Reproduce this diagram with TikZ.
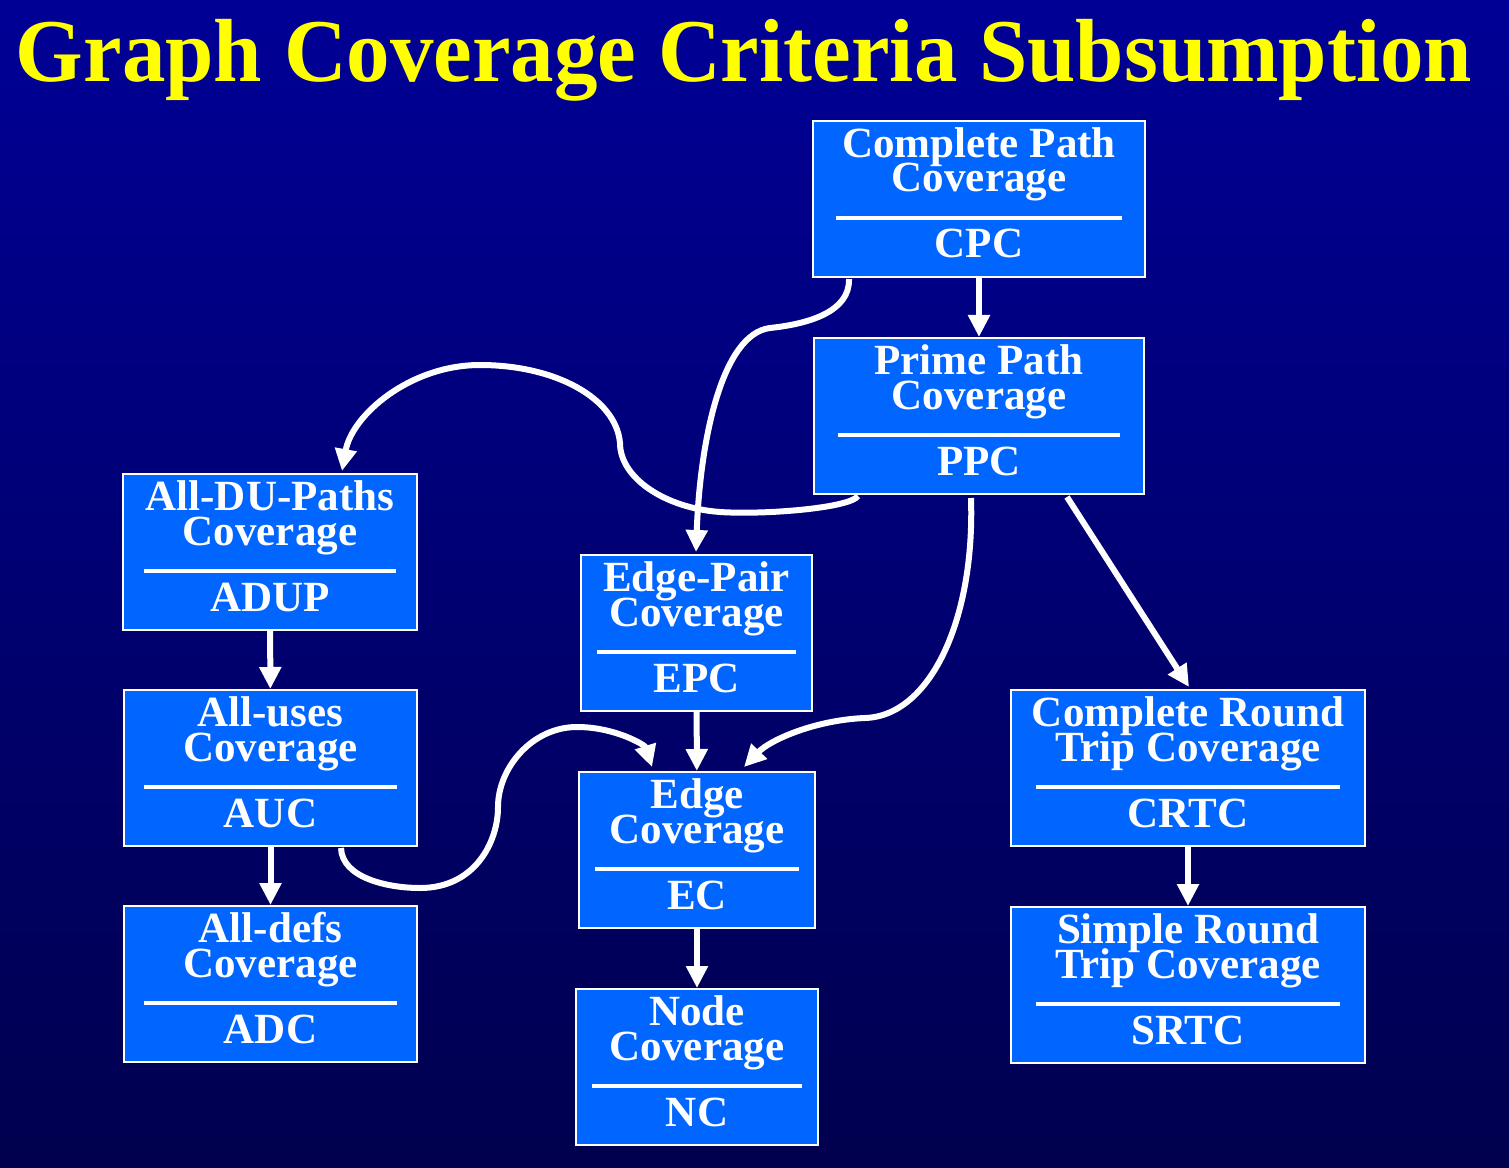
\documentclass[tikz,border=0pt]{standalone}
\usepackage{fontspec}
\setmainfont{Liberation Serif}
\usetikzlibrary{arrows.meta,calc}
\definecolor{cbgtop}{RGB}{0,0,150}
\definecolor{cbgbot}{RGB}{0,0,78}
\definecolor{cbox}{RGB}{0,102,255}
\definecolor{ctitle}{RGB}{255,255,0}
\newcommand{\critfont}{\bfseries\fontsize{24.5}{19.9}\selectfont\lineskiplimit=-50pt\relax}
\tikzset{
  critbox/.style={draw=white, line width=0.4mm, fill=cbox, minimum height=156*0.2mm, inner sep=0pt},
  crittext/.style={anchor=base, inner sep=0pt, text=white, align=center, font=\critfont},
  critrule/.style={draw=white, line width=0.65mm},
  conn/.style={-{Triangle[length=4.4mm, width=4.2mm]}, draw=white, line width=1.2mm},
  ttl/.style={anchor=base, inner sep=0pt, text=ctitle, xscale=0.97, font=\bfseries\fontsize{51}{60}\selectfont},
}
% name, centre x, top y, width, rule inset, line 1, line 2, short name
\newcommand{\critnode}[8]{%
  \node[critbox, minimum width=#4*0.2mm] (#1) at (#2,#3+78) {};
  \node[crittext] (#1-a) at (#2,#3+71) {#6\\#7};
  \draw[critrule] ($(#1.north west)+(#5,98)$) -- ($(#1.north east)+(-#5,98)$);
  \node[crittext] (#1-c) at (#2,#3+137) {#8};
}
\begin{document}
\begin{tikzpicture}[x=0.2mm, y=-0.2mm]
\shade[top color=cbgtop, bottom color=cbgbot] (0,0) rectangle (1509,1168);
\useasboundingbox (0,0) rectangle (1509,1168);
\node[ttl] (title) at (744,82) {Graph Coverage Criteria Subsumption};
% the boxes
\critnode{cpc}{979}{121}{332}{24}{Complete Path}{Coverage}{CPC}
\critnode{ppc}{979}{338}{330}{25}{Prime Path}{Coverage}{PPC}
\critnode{adup}{270}{474}{294}{22}{All-DU-Paths}{Coverage}{ADUP}
\critnode{epc}{696.5}{555}{231}{17}{Edge-Pair}{Coverage}{EPC}
\critnode{auc}{270.5}{690}{293}{21}{All-uses}{Coverage}{AUC}
\critnode{ec}{697}{772}{236}{17}{Edge}{Coverage}{EC}
\critnode{crtc}{1188}{690}{354}{26}{Complete Round}{Trip Coverage}{CRTC}
\critnode{adc}{270.5}{906}{293}{21}{All-defs}{Coverage}{ADC}
\critnode{nc}{697}{989}{242}{17}{Node}{Coverage}{NC}
\critnode{srtc}{1188}{907}{354}{26}{Simple Round}{Trip Coverage}{SRTC}
% straight arrows
\foreach \a/\b in {cpc/ppc,adup/auc,auc/adc,epc/ec,ec/nc,crtc/srtc} \draw[conn] (\a) -- (\b);
\draw[conn] ($(ppc.south west)+(254,2)$) -- ($(crtc.north west)+(179,-2)$);
% curved arrows
\draw[conn] ($(cpc.south west)+(37,1)$) .. controls (850,312) and (808,324) .. (770,328)
  .. controls (722,334) and (700,440) .. ($(epc.north west)+(116,-2)$);
\draw[conn] ($(ppc.south west)+(45,1)$) .. controls (850,508) and (765,515) .. (720,512)
  .. controls (665,508) and (620,478) .. (620,443)
  .. controls (616,398) and (555,365) .. (480,365)
  .. controls (410,365) and (352,415) .. ($(adup.north west)+(220,-2)$);
\draw[conn] ($(ppc.south west)+(158,3)$) .. controls (975,620) and (930,716) .. (865,718)
  .. controls (815,720) and (770,740) .. ($(ec.north west)+(166,-4)$);
\draw[conn] ($(auc.south west)+(218,1)$) .. controls (342,878) and (388,888) .. (420,888)
  .. controls (475,888) and (498,842) .. (498,807)
  .. controls (498,768) and (532,727) .. (577,727)
  .. controls (615,727) and (645,745) .. ($(ec.north west)+(74,-4)$);
\end{tikzpicture}
\end{document}
